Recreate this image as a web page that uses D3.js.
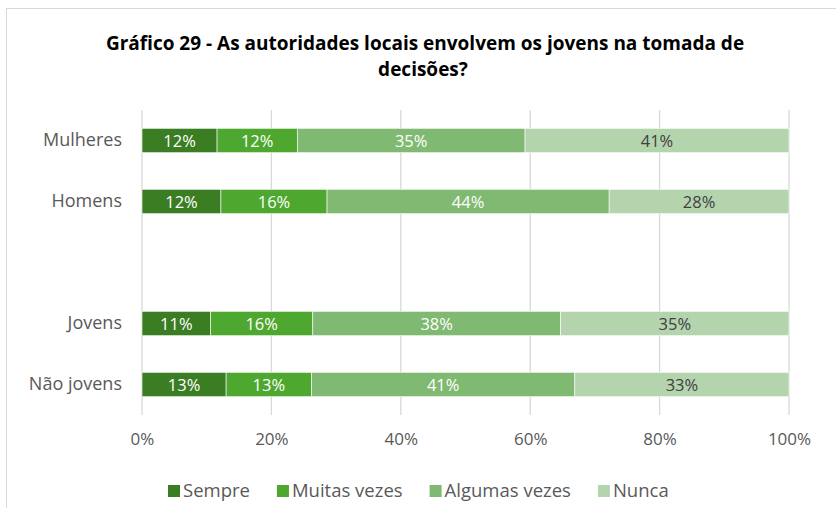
<!DOCTYPE html>
<html lang="pt">
<head>
    <meta charset="UTF-8">
    <title>Gráfico 29</title>
    <style>
        body { margin: 0; background: #ffffff; }
        svg text { font-family: "Open Sans", "Noto Sans", sans-serif; }
    </style>
    <script src="https://d3js.org/d3.v7.min.js"></script>
</head>
<body>
<div id="chart"></div>
<script>
    // Data
    var categories = ["Mulheres", "Homens", "", "Jovens", "Não jovens"];
    var seriesNames = ["Sempre", "Muitas vezes", "Algumas vezes", "Nunca"];
    var sempre = [11.6, 12.2, null, 10.6, 13.0];
    var muitasVezes = [12.4, 16.4, null, 15.8, 13.2];
    var algumasVezes = [35.2, 43.6, null, 38.3, 40.7];
    var nunca = [40.8, 27.8, null, 35.3, 33.1];
    var xTicks = [0, 20, 40, 60, 80, 100];
    var colors = ["#3b7d23", "#4ea72e", "#80b971", "#b4d4ae"];
    var labelColors = ["#ffffff", "#ffffff", "#ffffff", "#404040"];

    var width = 836, height = 508;
    var margin = { top: 110, left: 142, right: 47, bottom: 93 };

    var svg = d3.select("#chart").append("svg")
        .attr("width", width)
        .attr("height", height);

    // Chart frame
    svg.append("rect")
        .attr("x", 6.5).attr("y", 8.5)
        .attr("width", 840).attr("height", 520)
        .attr("fill", "none")
        .attr("stroke", "#d9d9d9");

    // Title
    var title = svg.append("text")
        .attr("text-anchor", "middle")
        .attr("font-weight", "bold")
        .attr("font-size", 19)
        .attr("fill", "#000000");
    title.append("tspan").attr("x", 425).attr("y", 50)
        .text("Gráfico 29 - As autoridades locais envolvem os jovens na tomada de");
    title.append("tspan").attr("x", 423).attr("y", 76)
        .text("decisões?");

    var xScale = d3.scaleLinear().domain([0, 100]).range([margin.left, width - margin.right]);
    var yScale = d3.scaleBand().domain(d3.range(categories.length))
        .range([margin.top, height - margin.bottom]).paddingInner(0.6).paddingOuter(0.3);

    // Gridlines
    svg.append("g").selectAll("line")
        .data(xTicks)
        .enter()
        .append("line")
        .attr("x1", d => xScale(d)).attr("x2", d => xScale(d))
        .attr("y1", margin.top).attr("y2", height - margin.bottom)
        .attr("stroke", "#d9d9d9")
        .attr("stroke-width", 1.3);

    // X axis labels
    var xAxis = d3.axisBottom(xScale).tickValues(xTicks).tickFormat(d => d + "%").tickSize(0).tickPadding(18);
    var xg = svg.append("g").attr("transform", "translate(0," + (height - margin.bottom) + ")").call(xAxis);
    xg.select(".domain").remove();
    xg.selectAll("text").attr("font-size", 17).attr("fill", "#595959")
        .style("font-family", "'Open Sans', sans-serif");

    // Category labels
    svg.append("g").selectAll("text")
        .data(categories)
        .enter()
        .append("text")
        .attr("x", 122)
        .attr("y", (d, i) => yScale(i) + yScale.bandwidth() / 2)
        .attr("dy", "0.3em")
        .attr("text-anchor", "end")
        .attr("font-size", 18)
        .attr("fill", "#595959")
        .text(d => d);

    // Stack the series
    var table = categories.map(function (c, i) {
        return { cat: i, s0: sempre[i], s1: muitasVezes[i], s2: algumasVezes[i], s3: nunca[i] };
    }).filter(d => d.s0 !== null);
    var stack = d3.stack().keys(["s0", "s1", "s2", "s3"])(table);

    var layers = svg.append("g").selectAll("g")
        .data(stack)
        .enter()
        .append("g");

    layers.selectAll("rect")
        .data(d => d)
        .enter()
        .append("rect")
        .attr("x", d => xScale(d[0]))
        .attr("y", d => yScale(d.data.cat))
        .attr("width", d => xScale(d[1]) - xScale(d[0]))
        .attr("height", yScale.bandwidth())
        .attr("fill", function () { return colors[d3.select(this.parentNode).datum().index]; })
        .attr("stroke", "#ffffff")
        .attr("stroke-width", 0.6);

    layers.selectAll("text")
        .data(d => d)
        .enter()
        .append("text")
        .attr("x", d => (xScale(d[0]) + xScale(d[1])) / 2)
        .attr("y", d => yScale(d.data.cat) + yScale.bandwidth() / 2)
        .attr("dy", "0.4em")
        .attr("text-anchor", "middle")
        .attr("font-size", 16.5)
        .attr("fill", function () { return labelColors[d3.select(this.parentNode).datum().index]; })
        .text(d => Math.round(d[1] - d[0]) + "%");

    // Legend
    var legend = svg.append("g").attr("transform", "translate(0,491)");
    var items = legend.selectAll("g")
        .data(seriesNames)
        .enter()
        .append("g");
    items.append("rect")
        .attr("y", -6).attr("width", 12).attr("height", 12)
        .attr("fill", (d, i) => colors[i]);
    items.append("text")
        .attr("x", 15)
        .attr("dy", "0.35em")
        .attr("font-size", 18.5)
        .attr("fill", "#595959")
        .text(d => d);
    var lx = 168;
    items.each(function () {
        var w = d3.select(this).select("text").node().getComputedTextLength();
        d3.select(this).attr("transform", "translate(" + lx + ",0)");
        lx += 15 + w + 27;
    });
</script>
</body>
</html>
